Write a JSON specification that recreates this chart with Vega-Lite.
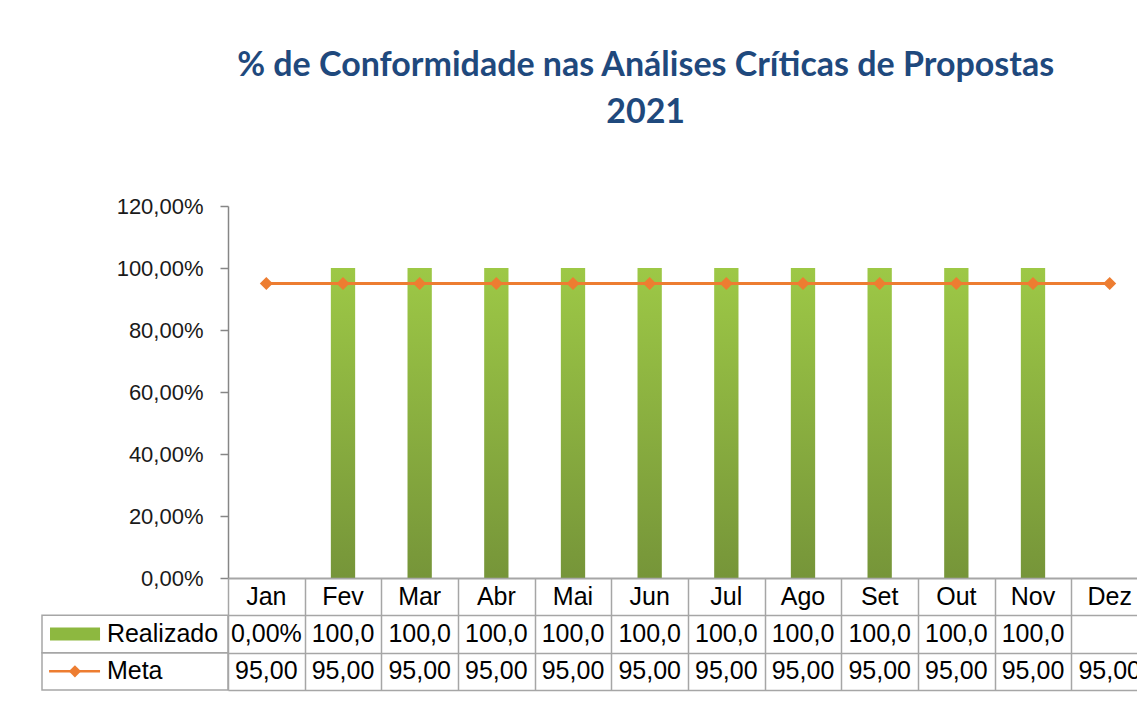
{
  "$schema": "https://vega.github.io/schema/vega-lite/v6.json",
  "padding": {"left": 41, "top": 49, "right": 5, "bottom": 27},
  "background": "#ffffff",
  "title": {
    "text": ["% de Conformidade nas Análises Críticas de Propostas", "2021"],
    "font": "Lato",
    "fontSize": 34,
    "fontWeight": "bold",
    "color": "#1F497D",
    "anchor": "middle",
    "dx": 51,
    "lineHeight": 47,
    "offset": 65
  },
  "datasets": {
    "mensal": [
      {"mes": "Jan", "Realizado": 0, "Meta": 0.95},
      {"mes": "Fev", "Realizado": 1, "Meta": 0.95},
      {"mes": "Mar", "Realizado": 1, "Meta": 0.95},
      {"mes": "Abr", "Realizado": 1, "Meta": 0.95},
      {"mes": "Mai", "Realizado": 1, "Meta": 0.95},
      {"mes": "Jun", "Realizado": 1, "Meta": 0.95},
      {"mes": "Jul", "Realizado": 1, "Meta": 0.95},
      {"mes": "Ago", "Realizado": 1, "Meta": 0.95},
      {"mes": "Set", "Realizado": 1, "Meta": 0.95},
      {"mes": "Out", "Realizado": 1, "Meta": 0.95},
      {"mes": "Nov", "Realizado": 1, "Meta": 0.95},
      {"mes": "Dez", "Realizado": null, "Meta": 0.95}
    ],
    "legenda": [
      {"serie": "Realizado"},
      {"serie": "Meta"}
    ]
  },
  "columns": 2,
  "spacing": 0,
  "bounds": "flush",
  "align": "each",
  "resolve": {"scale": {"x": "independent", "y": "independent"}},
  "concat": [
    {
      "width": 186,
      "height": 372,
      "data": {"values": [{}]},
      "mark": {"type": "text"},
      "encoding": {"text": {"value": ""}}
    },
    {
      "width": 920,
      "height": 372,
      "data": {"name": "mensal"},
      "layer": [
        {
          "mark": {
            "type": "bar",
            "width": {"band": 0.317},
            "color": {
              "gradient": "linear",
              "x1": 0, "y1": 0, "x2": 0, "y2": 1,
              "stops": [
                {"offset": 0, "color": "#9DC846"},
                {"offset": 1, "color": "#769539"}
              ]
            }
          },
          "encoding": {
            "x": {
              "field": "mes", "type": "ordinal",
              "scale": {"type": "band", "domain": ["Jan","Fev","Mar","Abr","Mai","Jun","Jul","Ago","Set","Out","Nov","Dez"], "paddingInner": 0, "paddingOuter": 0},
              "axis": {"labels": false, "ticks": false, "title": null, "domainColor": "#868686", "domainWidth": 1.5}
            },
            "y": {
              "field": "Realizado", "type": "quantitative",
              "scale": {"domain": [0, 1.2], "nice": false, "zero": true},
              "axis": {
                "title": null,
                "values": [0, 0.2, 0.4, 0.6, 0.8, 1, 1.2],
                "format": ".2%",
                "grid": false,
                "domainColor": "#868686",
                "domainWidth": 1.5,
                "tickColor": "#868686",
                "tickWidth": 1.5,
                "tickSize": 8,
                "labelPadding": 17,
                "labelFont": "Liberation Sans",
                "labelFontSize": 22,
                "labelColor": "#1a1a1a"
              }
            }
          }
        },
        {
          "mark": {
            "type": "line",
            "color": "#ED7D31",
            "strokeWidth": 3,
            "point": {"shape": "diamond", "size": 170, "filled": true, "color": "#ED7D31", "opacity": 1}
          },
          "encoding": {
            "x": {"field": "mes", "type": "ordinal"},
            "y": {"field": "Meta", "type": "quantitative"}
          }
        }
      ]
    },
    {
      "width": 186,
      "height": 112,
      "data": {"name": "legenda"},
      "layer": [
        {
          "mark": {"type": "rect", "filled": false, "color": "#A6A6A6", "strokeWidth": 1.5},
          "encoding": {
            "x": {"datum": 0, "type": "quantitative", "scale": {"domain": [0, 1], "nice": false, "zero": false}, "axis": null},
            "x2": {"datum": 1},
            "y": {"field": "serie", "type": "nominal", "scale": {"type": "band", "domain": ["Mês", "Realizado", "Meta"], "paddingInner": 0, "paddingOuter": 0}, "axis": null}
          }
        },
        {
          "transform": [{"filter": "datum.serie === 'Realizado'"}],
          "mark": {"type": "bar", "height": {"band": 0.35}, "color": "#8DB840"},
          "encoding": {
            "x": {"datum": 0.043, "type": "quantitative"},
            "x2": {"datum": 0.312},
            "y": {"field": "serie", "type": "nominal"}
          }
        },
        {
          "transform": [{"filter": "datum.serie === 'Meta'"}],
          "mark": {"type": "rule", "color": "#ED7D31", "strokeWidth": 2.5},
          "encoding": {
            "x": {"datum": 0.038, "type": "quantitative"},
            "x2": {"datum": 0.312},
            "y": {"field": "serie", "type": "nominal"}
          }
        },
        {
          "transform": [{"filter": "datum.serie === 'Meta'"}],
          "mark": {"type": "point", "shape": "diamond", "size": 150, "filled": true, "color": "#ED7D31", "opacity": 1},
          "encoding": {
            "x": {"datum": 0.177, "type": "quantitative"},
            "y": {"field": "serie", "type": "nominal"}
          }
        },
        {
          "mark": {"type": "text", "align": "left", "baseline": "middle", "font": "Liberation Sans", "fontSize": 25, "color": "#000000"},
          "encoding": {
            "x": {"datum": 0.349, "type": "quantitative"},
            "y": {"field": "serie", "type": "nominal"},
            "text": {"field": "serie"}
          }
        }
      ]
    },
    {
      "width": 920,
      "height": 112,
      "data": {"name": "mensal"},
      "layer": [
        {
          "mark": {"type": "text", "align": "center", "baseline": "middle", "font": "Liberation Sans", "fontSize": 25, "color": "#000000"},
          "encoding": {
            "x": {
              "field": "mes", "type": "ordinal",
              "scale": {"type": "band", "domain": ["Jan","Fev","Mar","Abr","Mai","Jun","Jul","Ago","Set","Out","Nov","Dez"], "paddingInner": 0, "paddingOuter": 0},
              "axis": {"grid": true, "tickBand": "extent", "labels": false, "ticks": false, "domain": false, "title": null, "gridColor": "#A6A6A6", "gridWidth": 1.5, "gridOpacity": 1}
            },
            "y": {
              "datum": "Mês", "type": "nominal",
              "scale": {"type": "band", "domain": ["Mês", "Realizado", "Meta"], "paddingInner": 0, "paddingOuter": 0},
              "axis": {"grid": true, "tickBand": "extent", "labels": false, "ticks": false, "domain": false, "title": null, "gridColor": "#A6A6A6", "gridWidth": 1.5, "gridOpacity": 1}
            },
            "text": {"field": "mes"}
          }
        },
        {
          "transform": [
            {"fold": ["Realizado", "Meta"], "as": ["serie", "valor"]},
            {"filter": "isValid(datum.valor)"}
          ],
          "mark": {"type": "text", "align": "center", "baseline": "middle", "font": "Liberation Sans", "fontSize": 25, "color": "#000000", "limit": 73, "ellipsis": "\u200b"},
          "encoding": {
            "x": {"field": "mes", "type": "ordinal"},
            "y": {"field": "serie", "type": "nominal"},
            "text": {"field": "valor", "type": "quantitative", "format": ".2%"}
          }
        }
      ]
    }
  ],
  "config": {
    "view": {"stroke": null},
    "font": "Liberation Sans",
    "locale": {
      "number": {"decimal": ",", "thousands": ".", "grouping": [3], "currency": ["R$", ""]}
    }
  }
}
